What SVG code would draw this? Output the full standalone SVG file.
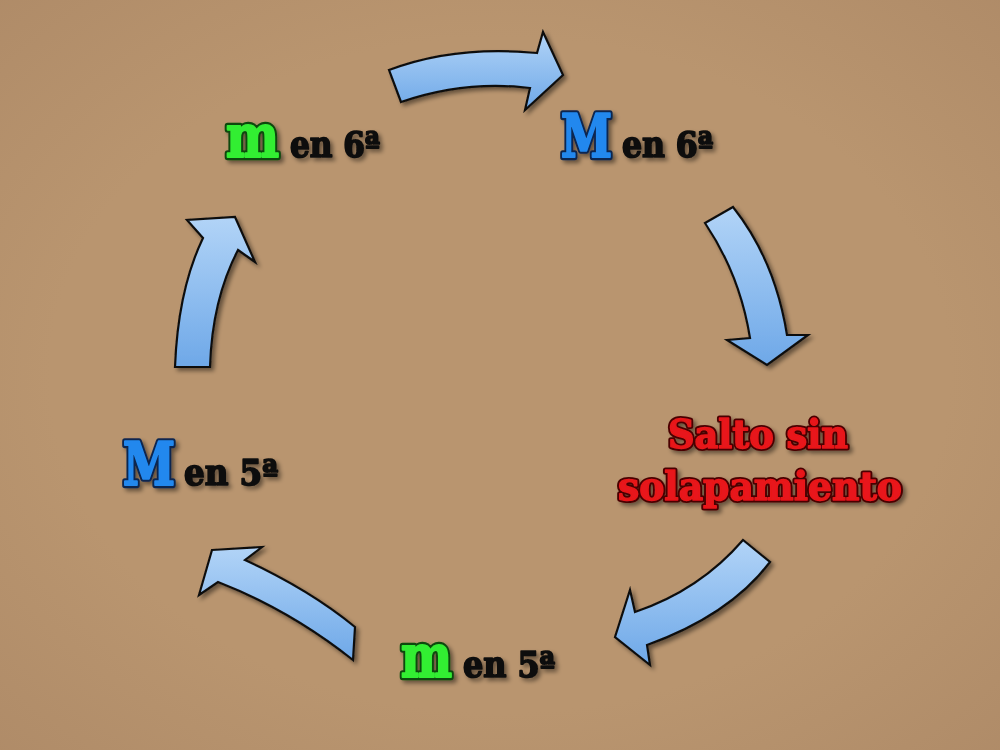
<svg xmlns="http://www.w3.org/2000/svg" width="1000" height="750" viewBox="0 0 1000 750">
<defs>
<style>
text{font-family:'DejaVu Serif Condensed','DejaVu Serif','Liberation Serif',serif;font-weight:bold;stroke-linejoin:round}
.big{font-size:60px}
.small{font-size:35px;fill:#0a0a0a;stroke:#0a0a0a;stroke-width:1.6}
.red{font-size:40px}
.go{fill:#0f4a0f;stroke:#0f4a0f;stroke-width:6.5}
.gf{fill:#33ee33;stroke:#33ee33;stroke-width:2.2}
.bo{fill:#0a2550;stroke:#0a2550;stroke-width:6.5}
.bf{fill:#2288ee;stroke:#2288ee;stroke-width:2.2}
.ro{fill:#4a0404;stroke:#4a0404;stroke-width:5}
.rf{fill:#e8141a;stroke:#e8141a;stroke-width:1.4}
.arrow{fill:url(#ag);stroke:#111;stroke-width:2.2;stroke-linejoin:miter;filter:url(#sh)}
</style>
<linearGradient id="ag" x1="0" y1="0" x2="0" y2="1">
<stop offset="0" stop-color="#b2d4f7"/>
<stop offset="1" stop-color="#6ea8e8"/>
</linearGradient>
<radialGradient id="bg" cx="0.5" cy="0.5" r="0.75">
<stop offset="0.6" stop-color="#b9956f"/>
<stop offset="1" stop-color="#ae8a67"/>
</radialGradient>
<filter id="sh" x="-20%" y="-20%" width="140%" height="140%">
<feDropShadow dx="3" dy="3" stdDeviation="2" flood-color="#000" flood-opacity="0.45"/>
</filter>
</defs>
<rect width="1000" height="750" fill="url(#bg)"/>
<g id="connectors">
<path class="arrow" d="M389,70 Q455,45 537,53 L543,32 L563,75 L525,110 L530,88 Q465,80 401,102 Z"/>
<path class="arrow" d="M705,223 L733,207 Q775,260 787,335 L808,335 L767,365 L727,340 L750,338 Q740,275 705,223 Z"/>
<path class="arrow" d="M743,540 Q700,590 635,612 L630,590 L615,637 L650,665 L647,645 Q730,615 770,562 Z"/>
<path class="arrow" d="M212,550 L262,547 L245,560 Q310,590 355,627 L353,660 Q290,610 218,582 L199,595 Z"/>
<path class="arrow" d="M175,367 Q178,290 203,238 L187,220 L235,217 L255,262 L238,250 Q212,300 210,367 Z"/>
</g>
<g id="m6" filter="url(#sh)">
<text class="big go" x="226" y="157" textLength="53" lengthAdjust="spacingAndGlyphs">m</text>
<text class="big gf" x="226" y="157" textLength="53" lengthAdjust="spacingAndGlyphs">m</text>
<text class="small" x="290" y="157" textLength="90" lengthAdjust="spacingAndGlyphs">en 6ª</text>
</g>
<g id="M6" filter="url(#sh)">
<text class="big bo" x="561" y="157" textLength="51" lengthAdjust="spacingAndGlyphs">M</text>
<text class="big bf" x="561" y="157" textLength="51" lengthAdjust="spacingAndGlyphs">M</text>
<text class="small" x="622" y="157" textLength="91" lengthAdjust="spacingAndGlyphs">en 6ª</text>
</g>
<g id="salto" filter="url(#sh)">
<text class="red ro" x="668" y="448" textLength="180" lengthAdjust="spacingAndGlyphs">Salto sin</text>
<text class="red rf" x="668" y="448" textLength="180" lengthAdjust="spacingAndGlyphs">Salto sin</text>
<text class="red ro" x="618" y="500" textLength="284" lengthAdjust="spacingAndGlyphs">solapamiento</text>
<text class="red rf" x="618" y="500" textLength="284" lengthAdjust="spacingAndGlyphs">solapamiento</text>
</g>
<g id="m5" filter="url(#sh)">
<text class="big go" x="401" y="677" textLength="51" lengthAdjust="spacingAndGlyphs">m</text>
<text class="big gf" x="401" y="677" textLength="51" lengthAdjust="spacingAndGlyphs">m</text>
<text class="small" x="463" y="677" textLength="92" lengthAdjust="spacingAndGlyphs">en 5ª</text>
</g>
<g id="M5" filter="url(#sh)">
<text class="big bo" x="123" y="485" textLength="52" lengthAdjust="spacingAndGlyphs">M</text>
<text class="big bf" x="123" y="485" textLength="52" lengthAdjust="spacingAndGlyphs">M</text>
<text class="small" x="184" y="485" textLength="94" lengthAdjust="spacingAndGlyphs">en 5ª</text>
</g>
</svg>
